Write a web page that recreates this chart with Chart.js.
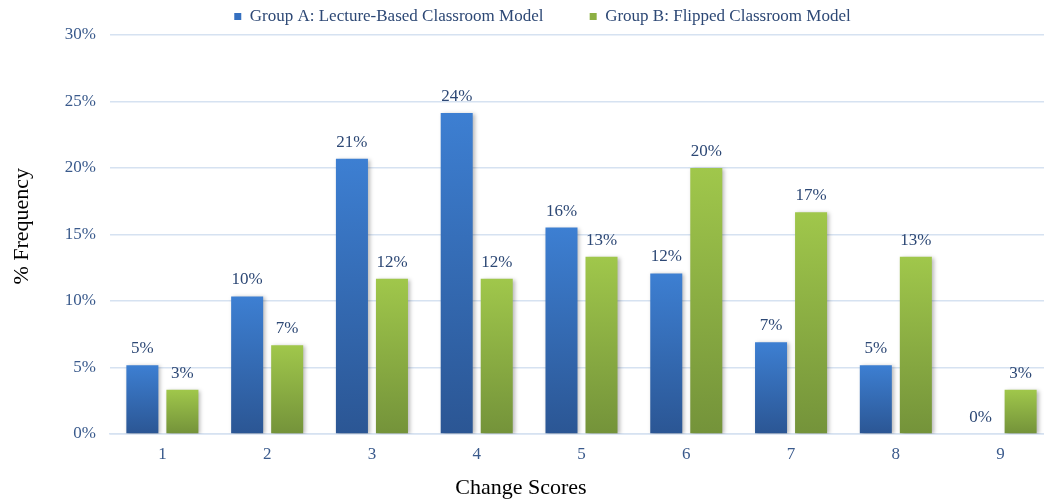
<!DOCTYPE html>
<html>
<head>
<meta charset="utf-8">
<script src="https://cdn.jsdelivr.net/npm/chart.js@4/dist/chart.umd.min.js"></script>
<style>
    html, body { margin: 0; padding: 0; background: #fff; overflow: hidden; }
    #wrap { width: 1044px; height: 502px; overflow: hidden; }
</style>
</head>
<body>
<div id="wrap"><canvas id="chart" width="1114" height="502"></canvas></div>
<script>
const categories = ['1', '2', '3', '4', '5', '6', '7', '8', '9'];
const groupA = [5.17, 10.34, 20.69, 24.14, 15.52, 12.07, 6.90, 5.17, 0];
const groupB = [3.33, 6.67, 11.67, 11.67, 13.33, 20.00, 16.67, 13.33, 3.33];
const yTicks = [0, 5, 10, 15, 20, 25, 30];

const FONT = '"Liberation Serif", "Times New Roman", serif';
const TICK_COLOR = '#3a5a8c';
const LABEL_COLOR = '#2d4875';
const GRID_COLOR = '#d6e2f1';

// top / bottom colours of each bar's gradient
const gradients = [
    ['#3d7fd2', '#2b5694'],
    ['#a0c74b', '#74933a']
];

// per-bar vertical gradient, like the office chart
const barGradient = {
    id: 'barGradient',
    beforeDatasetsDraw(chart) {
        const ctx = chart.ctx;
        chart.data.datasets.forEach((ds, di) => {
            const meta = chart.getDatasetMeta(di);
            meta.data.forEach(bar => {
                const top = Math.min(bar.y, bar.base);
                const bottom = Math.max(bar.y, bar.base);
                const g = ctx.createLinearGradient(0, top, 0, bottom + 0.01);
                g.addColorStop(0, gradients[di][0]);
                g.addColorStop(1, gradients[di][1]);
                bar.options = Object.assign({}, bar.options, { backgroundColor: g });
            });
        });
    },
    beforeDatasetDraw(chart) {
        const ctx = chart.ctx;
        ctx.save();
        ctx.shadowColor = 'rgba(0,0,0,0.28)';
        ctx.shadowBlur = 4;
        ctx.shadowOffsetX = 2;
        ctx.shadowOffsetY = 1;
    },
    afterDatasetDraw(chart) {
        chart.ctx.restore();
    }
};

// value labels above the bars
const valueLabels = {
    id: 'valueLabels',
    afterDatasetsDraw(chart) {
        const ctx = chart.ctx;
        ctx.save();
        ctx.font = '17px ' + FONT;
        ctx.fillStyle = LABEL_COLOR;
        ctx.textAlign = 'center';
        ctx.textBaseline = 'alphabetic';
        chart.data.datasets.forEach((ds, di) => {
            const meta = chart.getDatasetMeta(di);
            meta.data.forEach((bar, i) => {
                ctx.fillText(Math.round(ds.data[i]) + '%', bar.x, bar.y - 12);
            });
        });
        ctx.restore();
    }
};

new Chart(document.getElementById('chart'), {
    type: 'bar',
    data: {
        labels: categories,
        datasets: [
            {
                label: 'Group A: Lecture-Based Classroom Model',
                data: groupA,
                backgroundColor: '#3570c0',
                borderWidth: 0,
                categoryPercentage: 0.764,
                barPercentage: 0.8
            },
            {
                label: 'Group B: Flipped Classroom Model',
                data: groupB,
                backgroundColor: '#8db043',
                borderWidth: 0,
                categoryPercentage: 0.764,
                barPercentage: 0.8
            }
        ]
    },
    plugins: [barGradient, valueLabels],
    options: {
        responsive: false,
        animation: false,
        // left padding only nudges the centred legend; the y axis width below compensates
        layout: { padding: { top: 0, right: 61, bottom: 0, left: 32 } },
        plugins: {
            tooltip: { enabled: false },
            legend: {
                position: 'top',
                labels: {
                    boxWidth: 7,
                    boxHeight: 7,
                    padding: 8,
                    color: LABEL_COLOR,
                    font: { family: FONT, size: 17 },
                    generateLabels(chart) {
                        const items = Chart.defaults.plugins.legend.labels.generateLabels(chart);
                        items.forEach((it, i) => {
                            it.lineWidth = 0;
                            if (i === 0) it.text = it.text + '         ';
                        });
                        return items;
                    }
                }
            }
        },
        scales: {
            x: {
                grid: { display: false, drawTicks: false },
                border: { display: true, color: GRID_COLOR, width: 1.5 },
                ticks: {
                    color: TICK_COLOR,
                    font: { family: FONT, size: 17 },
                    padding: 10
                },
                title: {
                    display: true,
                    // trailing spaces move the title left, as in the source
                    text: 'Change Scores' + ' '.repeat(22),
                    color: '#000',
                    font: { family: FONT, size: 22 },
                    padding: { top: 0, bottom: 1 }
                },
                afterFit(scale) { scale.height = 68; }
            },
            y: {
                min: 0,
                max: 30,
                grid: { color: GRID_COLOR, lineWidth: 1.5, drawTicks: false },
                border: { display: false },
                afterBuildTicks(scale) {
                    scale.ticks = yTicks.map(v => ({ value: v }));
                },
                ticks: {
                    color: TICK_COLOR,
                    font: { family: FONT, size: 17 },
                    padding: 14,
                    callback: v => v + '%'
                },
                title: {
                    display: true,
                    text: '   % Frequency',
                    color: '#000',
                    font: { family: FONT, size: 22 },
                    padding: { top: -23, bottom: 0 }
                },
                afterFit(scale) { scale.width = 78; }
            }
        }
    }
});
</script>
</body>
</html>
